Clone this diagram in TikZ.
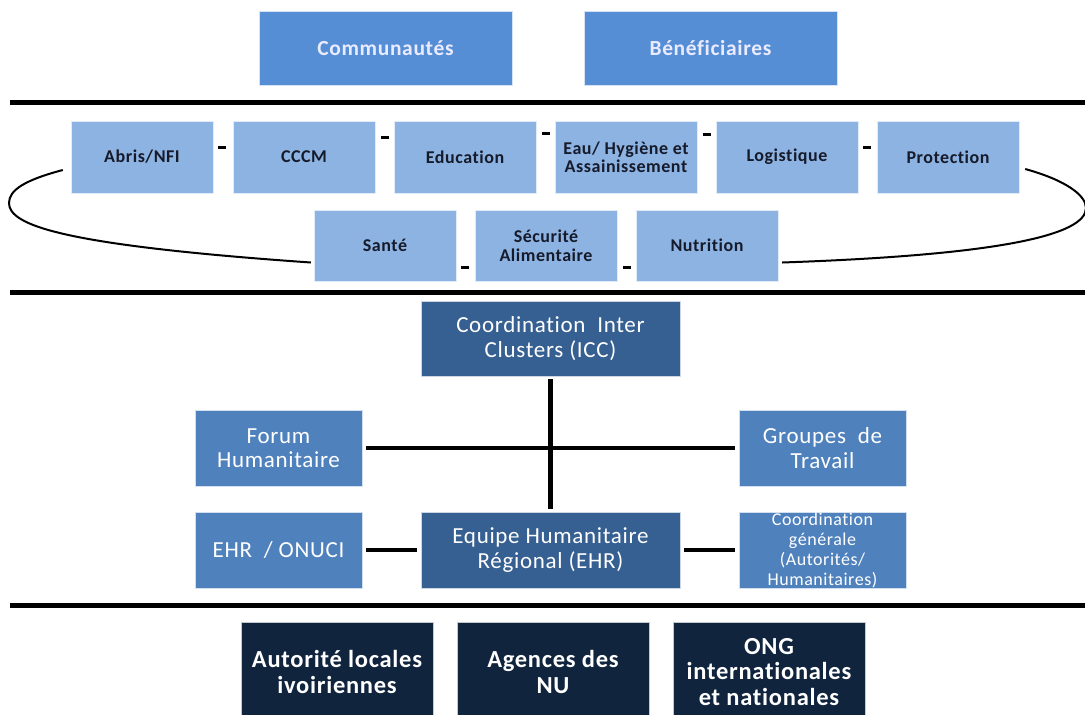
\documentclass[tikz,border=0pt]{standalone}
\usepackage{fontspec}
\setmainfont[LetterSpace=3, Ligatures=NoCommon]{Carlito}
\usepackage{xcolor}
\usepackage{tikz}
\usetikzlibrary{positioning}

\definecolor{topblue}{HTML}{558ED5}
\definecolor{clusterblue}{HTML}{8DB3E2}
\definecolor{midblue}{HTML}{4F81BD}
\definecolor{darkblue}{HTML}{376092}
\definecolor{navy}{HTML}{10243E}
\definecolor{inktext}{HTML}{161B2B}

\tikzset{
  box/.style={inner sep=0pt, align=center, draw=white!75!#1, fill=#1},
  topbox/.style={box=topblue, minimum width=253pt, minimum height=74pt,
    text=white!92!blue, font=\fontsize{21.5}{23}\selectfont\bfseries},
  clusterbox/.style={box=clusterblue, minimum width=142pt, minimum height=72pt,
    text=inktext, font=\fontsize{18}{18.5}\selectfont\bfseries},
  midbox/.style={box=midblue, minimum width=167pt, minimum height=76pt,
    text=white, font=\fontsize{23}{24.5}\selectfont},
  darkbox/.style={box=darkblue, minimum width=259pt, minimum height=76pt,
    text=white, font=\fontsize{23}{24.5}\selectfont},
  navybox/.style={box=navy, minimum width=192pt, minimum height=100pt,
    text=white, font=\fontsize{24.5}{25.5}\selectfont\bfseries},
  rule/.style={line width=5pt, black},
  link/.style={line width=4.5pt, black},
  tick/.style={line width=3pt, black},
  loopline/.style={line width=2pt, black}
}

\begin{document}
\begin{tikzpicture}[x=1pt, y=-1pt, line cap=butt, line join=round]
        \useasboundingbox (0,0) rectangle (1085,715);

        % Top boxes
        \node[topbox] (comm) at (385.5,48) {Communautés};
        \node[topbox] (benef) at (710.5,48) {Bénéficiaires};

        % Separators
        \draw[rule] (10,102) -- (1090,102);
        \draw[rule] (10,292) -- (1090,292);
        \draw[rule] (10,605) -- (1090,605);

        % Clusters
        \node[clusterbox] (abris) at (142,157) {Abris/NFI};
        \node[clusterbox] (cccm) at (304,157) {CCCM};
        \node[clusterbox] (educ) at (465,157) {Education};
        \node[clusterbox] (eau) at (626,157) {Eau/ Hygiène et\\Assainissement};
        \node[clusterbox] (logist) at (787,157) {Logistique};
        \node[clusterbox] (protect) at (948,157) {Protection};
        \node[clusterbox, minimum height=71pt] (sante) at (385,245.5) {Santé};
        \node[clusterbox, minimum height=71pt] (secal) at (546,245.5) {Sécurité\\Alimentaire};
        \node[clusterbox, minimum height=71pt] (nutri) at (707,245.5) {Nutrition};

        % Small dashes between clusters
        \foreach \x/\y in {222/147, 385/137, 546/133, 707/134, 867/147, 465/267, 627/267}
            \draw[tick] (\x-4,\y) -- (\x+4,\y);

        % Ring round the clusters
        \draw[loopline] ([xshift=-8pt,yshift=-13pt]abris.west)
            .. controls (25,180) and (9,190) .. (9,203)
            .. controls (9,225) and (60,245) .. ([xshift=-3pt,yshift=-17pt]sante.west);
        \draw[loopline] ([xshift=6pt,yshift=-12pt]protect.east)
            .. controls (1065,180) and (1086,195) .. (1086,208)
            .. controls (1086,235) and (1000,255) .. ([xshift=4pt,yshift=-17pt]nutri.east);

        % Coordination
        \node[darkbox, minimum height=75pt] (icc) at (550.5,338.5) {Coordination\ \ Inter\\Clusters (ICC)};
        \node[midbox] (forum) at (278.5,448) {Forum\\Humanitaire};
        \node[midbox] (groupes) at (822.5,448) {Groupes\ \ de\\Travail};
        \node[midbox] (onuci) at (278.5,550) {EHR\ \ / ONUCI};
        \node[darkbox] (ehr) at (550.5,550) {Equipe Humanitaire\\Régional (EHR)};
        \node[midbox, font=\fontsize{18}{20}\selectfont] (coordg) at (822.5,550)
            {Coordination\\générale\\(Autorités/\\Humanitaires)};

        % Links
        \draw[link] ([yshift=-3pt]icc.south) -- ([yshift=3pt]ehr.north);
        \draw[link] ([xshift=4pt]forum.east) -- ([xshift=-4pt]groupes.west);
        \draw[link] ([xshift=4pt]onuci.east) -- ([xshift=-4pt]ehr.west);
        \draw[link] ([xshift=4pt]ehr.east) -- ([xshift=-4pt]coordg.west);

        % Actors
        \node[navybox] (autor) at (337,672) {Autorité locales\\ivoiriennes};
        \node[navybox] (agences) at (553,672) {Agences des\\NU};
        \node[navybox] (ong) at (769,672) {ONG\\internationales\\et nationales};
    \end{tikzpicture}
\end{document}
